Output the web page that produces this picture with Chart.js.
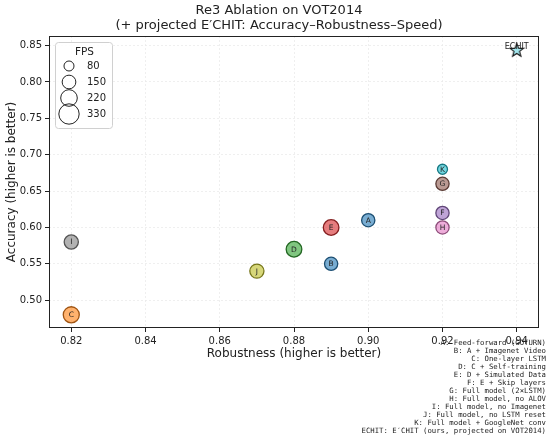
<!DOCTYPE html>
<html>
<head>
<meta charset="utf-8">
<script src="https://cdn.jsdelivr.net/npm/chart.js@4"></script>
<style>
  html, body { margin: 0; padding: 0; background: #fff; }
  #wrap { width: 550px; height: 442px; }
</style>
</head>
<body>
<div id="wrap"><canvas id="c" width="550" height="442"></canvas></div>
<script>
// data
const variants = ['A', 'B', 'C', 'D', 'E', 'F', 'G', 'H', 'I', 'J', 'K'];
const robustness = [0.90, 0.89, 0.82, 0.88, 0.89, 0.92, 0.92, 0.92, 0.82, 0.87, 0.92];
const accuracy = [0.61, 0.55, 0.48, 0.57, 0.60, 0.62, 0.66, 0.60, 0.58, 0.54, 0.68];
const fps = [140, 140, 205, 195, 195, 140, 140, 140, 160, 160, 80];
const echitRobustness = [0.94];
const echitAccuracy = [0.844];
const legendFps = [80, 150, 220, 330];
const xTicks = [0.82, 0.84, 0.86, 0.88, 0.90, 0.92, 0.94];
const yTicks = [0.50, 0.55, 0.60, 0.65, 0.70, 0.75, 0.80, 0.85];
const descriptions = [
    'A: Feed-forward (GOTURN)',
    'B: A + Imagenet Video',
    'C: One-layer LSTM',
    'D: C + Self-training',
    'E: D + Simulated Data',
    'F: E + Skip layers',
    'G: Full model (2\u00d7LSTM)',
    'H: Full model, no ALOV',
    'I: Full model, no Imagenet',
    'J: Full model, no LSTM reset',
    'K: Full model + GoogleNet conv',
    'ECHIT: E\u2032CHIT (ours, projected on VOT2014)'
];

const palette = {
    'A': [31, 119, 180], 'B': [31, 119, 180], 'C': [255, 127, 14],
    'D': [44, 160, 44], 'E': [214, 39, 40], 'F': [148, 103, 189],
    'G': [140, 86, 75], 'H': [227, 119, 194], 'I': [127, 127, 127],
    'J': [188, 189, 34], 'K': [23, 190, 207]
};

function radiusFor(f) {
    return 0.56 * Math.sqrt(f);
}

function fill(c) { return 'rgba(' + c.join(',') + ',0.6)'; }
function edge(c) { return 'rgba(' + c.map(v => Math.round(v * 0.6)).join(',') + ',0.95)'; }

// filled five pointed star for the E'CHIT marker
function makeStar(size) {
    const cv = document.createElement('canvas');
    cv.width = size; cv.height = size;
    const g = cv.getContext('2d');
    const cx = size / 2, cy = size / 2 + 0.5, ro = size / 2 - 1, ri = ro * 0.42;
    g.beginPath();
    for (let i = 0; i < 10; i++) {
        const r = i % 2 === 0 ? ro : ri;
        const a = -Math.PI / 2 + i * Math.PI / 5;
        g.lineTo(cx + r * Math.cos(a), cy + r * Math.sin(a));
    }
    g.closePath();
    g.fillStyle = 'rgba(23,190,207,0.4)';
    g.fill();
    g.strokeStyle = '#111';
    g.lineWidth = 1.1;
    g.stroke();
    return cv;
}

const FONT = 'DejaVu Sans';

const extras = {
    id: 'extras',
    afterDatasetsDraw(chart) {
        const ctx = chart.ctx;
        const area = chart.chartArea;
        ctx.save();
        // frame
        ctx.strokeStyle = '#222';
        ctx.lineWidth = 1;
        ctx.strokeRect(area.left + 0.5, area.top + 0.5, area.right - area.left - 1, area.bottom - area.top - 1);

        // letters on the bubbles
        ctx.textAlign = 'center';
        ctx.textBaseline = 'middle';
        ctx.font = '7.5px ' + FONT;
        ctx.fillStyle = '#222';
        chart.getDatasetMeta(0).data.forEach(function(el, i) {
            ctx.fillText(variants[i], el.x, el.y + 0.5);
        });
        chart.getDatasetMeta(1).data.forEach(function(el) {
            ctx.font = '8px ' + FONT;
            ctx.fillText('ECHIT', el.x, el.y - 3);
        });

        // FPS legend
        const lx = 55, ly = 42, lw = 57, lh = 86;
        ctx.beginPath();
        ctx.roundRect(lx + 0.5, ly + 0.5, lw, lh, 3);
        ctx.fillStyle = 'rgba(255,255,255,0.85)';
        ctx.fill();
        ctx.strokeStyle = '#d0d0d0';
        ctx.stroke();
        ctx.fillStyle = '#222';
        ctx.font = '10.5px ' + FONT;
        ctx.fillText('FPS', lx + lw / 2 + 1, ly + 10);
        ctx.textAlign = 'left';
        ctx.font = '10px ' + FONT;
        legendFps.forEach(function(f, i) {
            const y = 66 + i * 16;
            ctx.beginPath();
            ctx.arc(69, y, radiusFor(f), 0, Math.PI * 2);
            ctx.strokeStyle = '#222';
            ctx.lineWidth = 1;
            ctx.stroke();
            ctx.fillText(String(f), 87, y);
        });

        // title
        ctx.textAlign = 'center';
        ctx.font = '13px ' + FONT;
        ctx.fillText('Re3 Ablation on VOT2014', 279, 11);
        ctx.fillText('(+ projected E\u2032CHIT: Accuracy\u2013Robustness\u2013Speed)', 279, 26);

        // variant descriptions
        ctx.textAlign = 'right';
        ctx.font = '7.3px "DejaVu Sans Mono"';
        descriptions.forEach(function(t, i) {
            ctx.fillText(t, 546, 343 + i * 8);
        });
        ctx.restore();
    }
};

const tickFont = { family: FONT, size: 10 };
const gridOpts = { color: '#ebebeb', lineWidth: 0.8, tickColor: '#222', tickLength: 4, tickWidth: 1 };

new Chart(document.getElementById('c'), {
    type: 'scatter',
    data: {
        datasets: [
            {
                data: variants.map((v, i) => ({ x: robustness[i], y: accuracy[i] })),
                pointRadius: fps.map(radiusFor),
                backgroundColor: variants.map(v => fill(palette[v])),
                borderColor: variants.map(v => edge(palette[v])),
                borderWidth: 1.3
            },
            {
                data: echitRobustness.map((x, i) => ({ x: x, y: echitAccuracy[i] })),
                pointStyle: makeStar(16),
                pointRadius: 8
            }
        ]
    },
    options: {
        responsive: false,
        animation: false,
        events: [],
        layout: { padding: { left: 0, right: 11, top: 36, bottom: 78 } },
        plugins: { legend: { display: false }, tooltip: { enabled: false } },
        scales: {
            x: {
                type: 'linear',
                min: 0.814,
                max: 0.946,
                afterFit: s => { s.height = 36; },
                afterBuildTicks: s => { s.ticks = xTicks.map(v => ({ value: v })); },
                ticks: { font: tickFont, color: '#222', padding: 3, callback: v => v.toFixed(2) },
                grid: gridOpts,
                border: { display: false, dash: [2, 2] },
                title: { display: true, text: 'Robustness (higher is better)', color: '#222',
                         font: { family: FONT, size: 12 }, padding: { top: 0, bottom: 3 } }
            },
            y: {
                type: 'linear',
                min: 0.4618,
                max: 0.8632,
                afterFit: s => { s.width = 49; },
                afterBuildTicks: s => { s.ticks = yTicks.map(v => ({ value: v })); },
                ticks: { font: tickFont, color: '#222', padding: 3, callback: v => v.toFixed(2) },
                grid: gridOpts,
                border: { display: false, dash: [2, 2] },
                title: { display: true, text: 'Accuracy (higher is better)', color: '#222',
                         font: { family: FONT, size: 12 }, padding: { top: 5, bottom: 0 } }
            }
        }
    },
    plugins: [extras]
});
</script>
</body>
</html>
